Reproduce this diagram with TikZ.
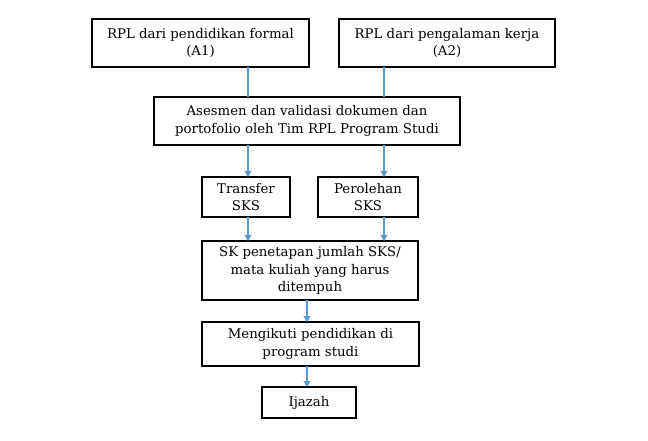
\documentclass[tikz,border=0pt]{standalone}
\usepackage{fontspec}
\setmainfont{DejaVu Serif}
\usetikzlibrary{arrows.meta}
\definecolor{linkblue}{RGB}{91,155,213}

\begin{document}
\begin{tikzpicture}[
  x=1pt,
  y=-1pt,
  box/.style={draw=black, line width=1.5pt, align=center, inner sep=0pt,
    outer sep=0pt, font=\fontsize{13.3}{17.5}\selectfont},
  line/.style={draw=linkblue, line width=1.3pt},
  link/.style={line, -{Triangle[width=7pt,length=6pt]}},
]
\useasboundingbox (0,0) rectangle (648,440);

% boxes
\node[box, minimum width=217pt, minimum height=48pt] (a1) at (200.5,43)
  {RPL dari pendidikan formal\\(A1)};
\node[box, minimum width=216pt, minimum height=48pt] (a2) at (447,43)
  {RPL dari pengalaman kerja\\(A2)};
\node[box, minimum width=306pt, minimum height=48pt] (asesmen) at (307,121)
  {Asesmen dan validasi dokumen dan\\portofolio oleh Tim RPL Program Studi};
\node[box, minimum width=88pt, minimum height=40pt] (transfer) at (246,197)
  {Transfer\\SKS};
\node[box, minimum width=100pt, minimum height=40pt] (perolehan) at (368,197)
  {Perolehan\\SKS};
\node[box, minimum width=216pt, minimum height=59pt] (sk) at (310,270.5)
  {SK penetapan jumlah SKS/\\mata kuliah yang harus\\ditempuh};
\node[box, minimum width=217pt, minimum height=44pt] (ikut) at (310.5,344)
  {Mengikuti pendidikan di\\program studi};
\node[box, minimum width=94pt, minimum height=31pt] (ijazah) at (309,402.5)
  {Ijazah};

% x positions of the connectors
\coordinate (left) at (248,0);
\coordinate (right) at (384,0);
\coordinate (mid) at (307,0);

% connectors
\draw[line] (a1.south -| left) -- (asesmen.north -| left);
\draw[line] (a2.south -| right) -- (asesmen.north -| right);
\draw[link] (asesmen.south -| left) -- (transfer.north -| left);
\draw[link] (asesmen.south -| right) -- (perolehan.north -| right);
\draw[link] (transfer.south -| left) -- (sk.north -| left);
\draw[link] (perolehan.south -| right) -- (sk.north -| right);
\draw[link] (sk.south -| mid) -- (ikut.north -| mid);
\draw[link] (ikut.south -| mid) -- (ijazah.north -| mid);
\end{tikzpicture}
\end{document}
